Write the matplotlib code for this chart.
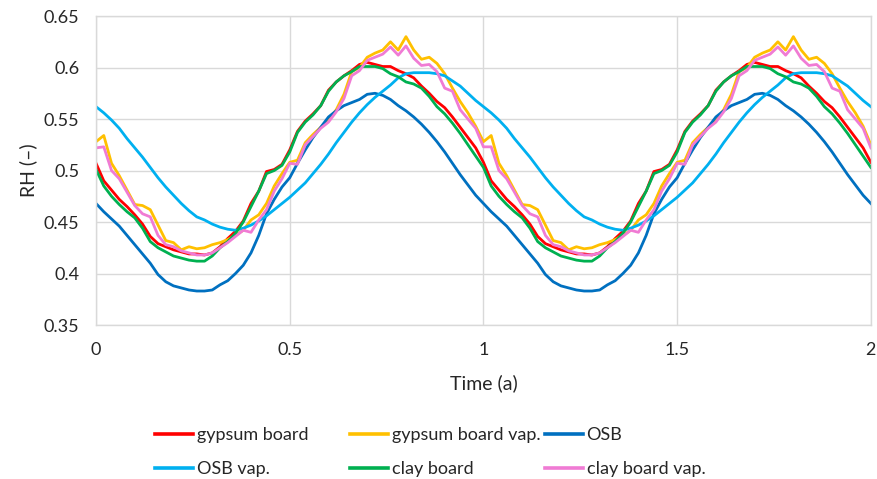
import matplotlib
matplotlib.use('Agg')
import matplotlib.pyplot as plt
from matplotlib.lines import Line2D

# time axis in years, one value every 0.02 a
time = [round(i * 0.02, 2) for i in range(101)]

# relative humidity, year 1 (0..1) then year 2 (1.02..2)
gypsum = [0.507, 0.490, 0.481, 0.472, 0.465, 0.457, 0.448, 0.436, 0.429, 0.426,
          0.423, 0.421, 0.419, 0.419, 0.418, 0.420, 0.426, 0.434, 0.441, 0.451,
          0.468, 0.480, 0.499, 0.501, 0.506, 0.520, 0.538, 0.548, 0.555, 0.563,
          0.578, 0.586, 0.592, 0.597, 0.603, 0.605, 0.603, 0.601, 0.601, 0.597,
          0.594, 0.590, 0.582, 0.575, 0.567, 0.561, 0.552, 0.542, 0.532, 0.522,
          0.508,
          0.490, 0.481, 0.472, 0.465, 0.457, 0.448, 0.436, 0.429, 0.426,
          0.423, 0.421, 0.419, 0.419, 0.418, 0.420, 0.426, 0.434, 0.441, 0.451,
          0.468, 0.480, 0.499, 0.501, 0.506, 0.520, 0.538, 0.548, 0.555, 0.563,
          0.578, 0.586, 0.592, 0.597, 0.603, 0.605, 0.603, 0.601, 0.601, 0.597,
          0.594, 0.590, 0.582, 0.575, 0.567, 0.561, 0.552, 0.542, 0.532, 0.522,
          0.508]

gypsum_vap = [0.528, 0.534, 0.507, 0.495, 0.481, 0.467, 0.466, 0.462, 0.447, 0.432,
              0.430, 0.423, 0.426, 0.424, 0.425, 0.428, 0.430, 0.433, 0.437, 0.442,
              0.452, 0.457, 0.468, 0.485, 0.497, 0.508, 0.510, 0.527, 0.535, 0.542,
              0.549, 0.559, 0.574, 0.596, 0.600, 0.610, 0.614, 0.617, 0.625, 0.617,
              0.630, 0.617, 0.608, 0.610, 0.604, 0.594, 0.580, 0.567, 0.556, 0.543,
              0.528,
              0.534, 0.507, 0.495, 0.481, 0.467, 0.466, 0.462, 0.447, 0.432,
              0.430, 0.423, 0.426, 0.424, 0.425, 0.428, 0.430, 0.433, 0.437, 0.442,
              0.452, 0.457, 0.468, 0.485, 0.497, 0.508, 0.510, 0.527, 0.535, 0.542,
              0.549, 0.559, 0.574, 0.596, 0.600, 0.610, 0.614, 0.617, 0.625, 0.617,
              0.630, 0.617, 0.608, 0.610, 0.604, 0.594, 0.580, 0.567, 0.556, 0.543,
              0.525]

osb = [0.468, 0.460, 0.453, 0.446, 0.437, 0.428, 0.419, 0.410, 0.399, 0.392,
       0.388, 0.386, 0.384, 0.383, 0.383, 0.384, 0.389, 0.393, 0.400, 0.408,
       0.420, 0.437, 0.458, 0.472, 0.484, 0.493, 0.507, 0.520, 0.532, 0.542,
       0.552, 0.558, 0.563, 0.566, 0.569, 0.574, 0.575, 0.573, 0.569, 0.563,
       0.558, 0.552, 0.545, 0.537, 0.528, 0.518, 0.507, 0.496, 0.486, 0.476,
       0.468,
       0.460, 0.453, 0.446, 0.437, 0.428, 0.419, 0.410, 0.399, 0.392,
       0.388, 0.386, 0.384, 0.383, 0.383, 0.384, 0.389, 0.393, 0.400, 0.408,
       0.420, 0.437, 0.458, 0.472, 0.484, 0.493, 0.507, 0.520, 0.532, 0.542,
       0.552, 0.558, 0.563, 0.566, 0.569, 0.574, 0.575, 0.573, 0.569, 0.563,
       0.558, 0.552, 0.545, 0.537, 0.528, 0.518, 0.507, 0.496, 0.486, 0.476,
       0.468]

osb_vap = [0.562, 0.556, 0.549, 0.541, 0.531, 0.522, 0.513, 0.503, 0.493, 0.484,
           0.476, 0.468, 0.461, 0.455, 0.452, 0.448, 0.445, 0.443, 0.442, 0.444,
           0.447, 0.451, 0.456, 0.462, 0.468, 0.474, 0.481, 0.488, 0.497, 0.506,
           0.516, 0.527, 0.537, 0.547, 0.556, 0.564, 0.571, 0.577, 0.583, 0.590,
           0.594, 0.595, 0.595, 0.595, 0.594, 0.592, 0.587, 0.582, 0.575, 0.568,
           0.562,
           0.556, 0.549, 0.541, 0.531, 0.522, 0.513, 0.503, 0.493, 0.484,
           0.476, 0.468, 0.461, 0.455, 0.452, 0.448, 0.445, 0.443, 0.442, 0.444,
           0.447, 0.451, 0.456, 0.462, 0.468, 0.474, 0.481, 0.488, 0.497, 0.506,
           0.516, 0.527, 0.537, 0.547, 0.556, 0.564, 0.571, 0.577, 0.583, 0.590,
           0.594, 0.595, 0.595, 0.595, 0.594, 0.592, 0.587, 0.582, 0.575, 0.568,
           0.562]

clay = [0.501, 0.485, 0.475, 0.467, 0.460, 0.454, 0.444, 0.431, 0.425, 0.421,
        0.417, 0.415, 0.413, 0.412, 0.412, 0.417, 0.425, 0.431, 0.439, 0.450,
        0.465, 0.480, 0.497, 0.500, 0.505, 0.518, 0.537, 0.547, 0.554, 0.563,
        0.577, 0.586, 0.592, 0.596, 0.601, 0.601, 0.601, 0.599, 0.594, 0.591,
        0.586, 0.584, 0.580, 0.572, 0.562, 0.555, 0.546, 0.536, 0.525, 0.514,
        0.503,
        0.485, 0.475, 0.467, 0.460, 0.454, 0.444, 0.431, 0.425, 0.421,
        0.417, 0.415, 0.413, 0.412, 0.412, 0.417, 0.425, 0.431, 0.439, 0.450,
        0.465, 0.480, 0.497, 0.500, 0.505, 0.518, 0.537, 0.547, 0.554, 0.563,
        0.577, 0.586, 0.592, 0.596, 0.601, 0.601, 0.601, 0.599, 0.594, 0.591,
        0.586, 0.584, 0.580, 0.572, 0.562, 0.555, 0.546, 0.536, 0.525, 0.514,
        0.503]

clay_vap = [0.522, 0.523, 0.500, 0.492, 0.479, 0.466, 0.458, 0.455, 0.437, 0.428,
            0.426, 0.422, 0.420, 0.418, 0.418, 0.420, 0.425, 0.430, 0.436, 0.442,
            0.440, 0.452, 0.462, 0.480, 0.492, 0.507, 0.506, 0.525, 0.533, 0.541,
            0.547, 0.557, 0.570, 0.592, 0.597, 0.607, 0.610, 0.613, 0.620, 0.612,
            0.621, 0.609, 0.602, 0.603, 0.596, 0.580, 0.577, 0.559, 0.550, 0.541,
            0.523,
            0.523, 0.500, 0.492, 0.479, 0.466, 0.458, 0.455, 0.437, 0.428,
            0.426, 0.422, 0.420, 0.418, 0.418, 0.420, 0.425, 0.430, 0.436, 0.442,
            0.440, 0.452, 0.462, 0.480, 0.492, 0.507, 0.506, 0.525, 0.533, 0.541,
            0.547, 0.557, 0.570, 0.592, 0.597, 0.607, 0.610, 0.613, 0.620, 0.612,
            0.621, 0.609, 0.602, 0.603, 0.596, 0.580, 0.577, 0.559, 0.550, 0.541,
            0.522]

series = [
    ('gypsum board', gypsum, '#FF0000'),
    ('gypsum board vap.', gypsum_vap, '#FFC000'),
    ('OSB', osb, '#0070C0'),
    ('OSB vap.', osb_vap, '#00B0F0'),
    ('clay board', clay, '#00B050'),
    ('clay board vap.', clay_vap, '#F07BD4'),
]

xticks = [0, 0.5, 1, 1.5, 2]
xticklabels = ['0', '0.5', '1', '1.5', '2']
yticks = [0.35, 0.4, 0.45, 0.5, 0.55, 0.6, 0.65]
yticklabels = ['0.35', '0.4', '0.45', '0.5', '0.55', '0.6', '0.65']

plt.rcParams['font.family'] = ['Lato', 'DejaVu Sans']
txt = '#262626'
fs = 13

fig = plt.figure(figsize=(8.77, 4.79), dpi=100)
ax = fig.add_axes([0.1095, 0.3215, 0.8835, 0.645])

for name, vals, col in series:
    ax.plot(time, vals, color=col, lw=2.0, label=name, solid_joinstyle='round')

ax.set_xlim(0, 2)
ax.set_ylim(0.35, 0.65)
ax.set_xticks(xticks)
ax.set_xticklabels(xticklabels)
ax.set_yticks(yticks)
ax.set_yticklabels(yticklabels)
ax.tick_params(length=0, labelsize=fs, colors=txt)
ax.tick_params(axis='x', pad=12)
ax.tick_params(axis='y', pad=12)
ax.grid(True, color='#D9D9D9', lw=1)
ax.set_axisbelow(True)
for sp in ax.spines.values():
    sp.set_color('#D9D9D9')
    sp.set_linewidth(1)

ax.set_xlabel('Time (a)', fontsize=14, color=txt, labelpad=12)
ax.set_ylabel('RH (\u2013)', fontsize=14, color=txt, labelpad=5)

# legend laid out like the Excel one: three columns with fixed spacing
handles = [Line2D([], [], color=c, lw=2.6) for _, _, c in series]
names = [n for n, _, _ in series]
colx = [155 / 877, 350 / 877, 545 / 877]
for i in range(3):
    leg = fig.legend([handles[i], handles[i + 3]], [names[i], names[i + 3]],
                     loc='upper left', bbox_to_anchor=(colx[i], 1 - 427 / 479),
                     frameon=False, fontsize=fs, handlelength=2.1, handletextpad=0.2,
                     labelspacing=1.0, borderaxespad=0, borderpad=0)
    for t in leg.get_texts():
        t.set_color(txt)

fig.savefig('out.png', dpi=100)
